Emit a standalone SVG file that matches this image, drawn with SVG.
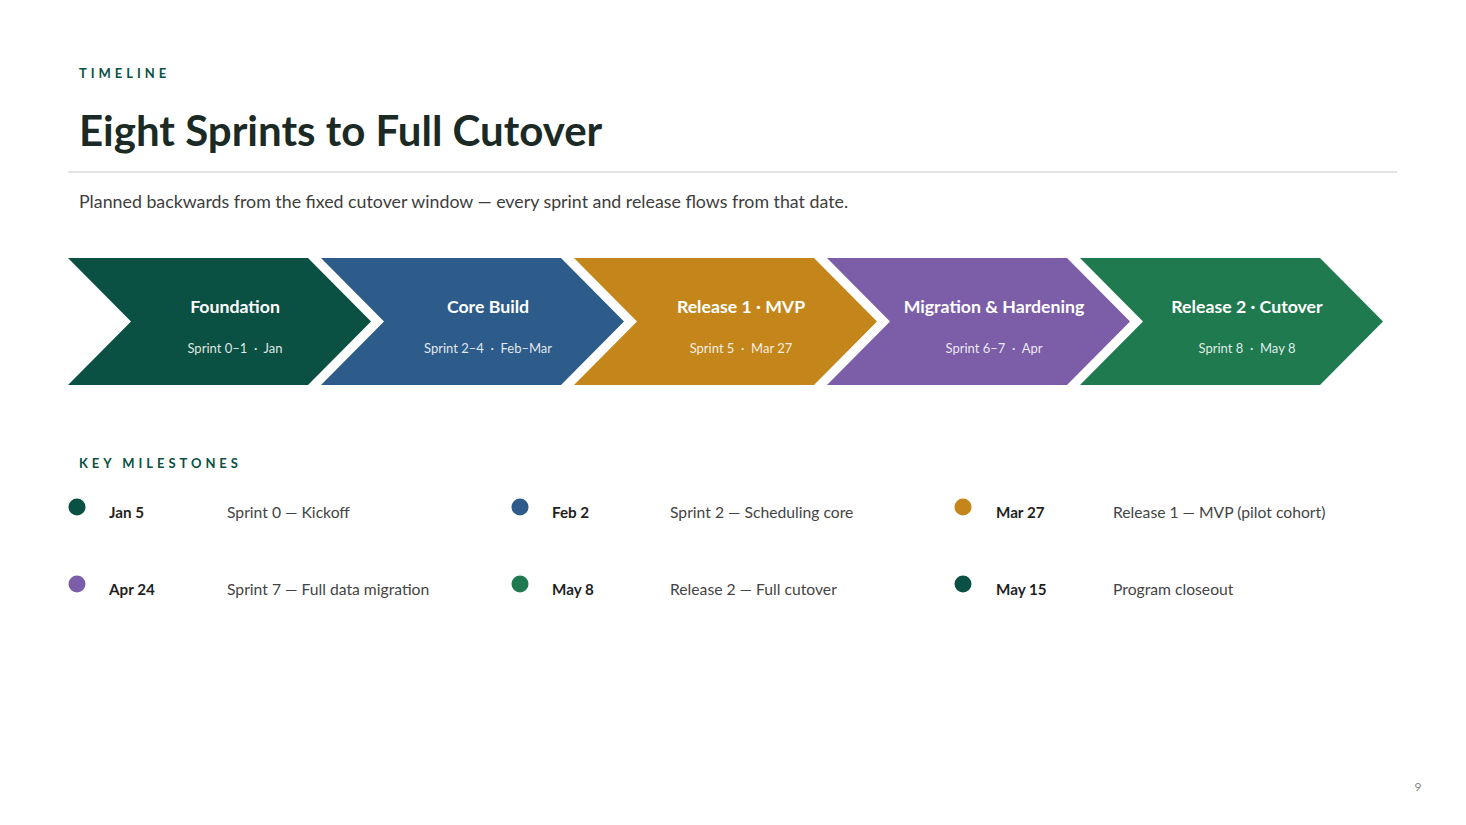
<svg xmlns="http://www.w3.org/2000/svg" width="1466" height="825" viewBox="0 0 1466 825">
<style>
text{font-family:Lato,"Noto Sans","Liberation Sans",sans-serif}
.eyebrow{font-size:13px;font-weight:700;fill:#0b5143;letter-spacing:3.95px}
.title{font-size:42px;font-weight:700;fill:#1b2a25}
.sub{font-size:17.8px;fill:#3d3d3d}
.ct{font-size:17.7px;font-weight:700;fill:#ffffff;text-anchor:middle}
.cs{font-size:13px;fill:#ffffff;fill-opacity:0.88;text-anchor:middle;white-space:pre}
.date{font-size:15.2px;font-weight:700;fill:#1f1f1f}
.desc{font-size:15.7px;fill:#444444}
.pg{font-size:12px;fill:#888888}
</style>
<rect width="1466" height="825" fill="#ffffff"/>
<text class="eyebrow" x="79" y="78">TIMELINE</text>
<text class="title" x="79" y="146">Eight Sprints to Full Cutover</text>
<line x1="68" y1="172" x2="1397" y2="172" stroke="#e3e3e3" stroke-width="2"/>
<text class="sub" x="79" y="208">Planned backwards from the fixed cutover window — every sprint and release flows from that date.</text>
<g id="phase-foundation">
<polygon points="68,258 308,258 371,321.5 308,385 68,385 131,321.5" fill="#0b5143"/>
<text class="ct" x="235" y="313">Foundation</text>
<text class="cs" x="235" y="353" xml:space="preserve">Sprint 0–1  ·  Jan</text>
</g>
<g id="phase-core-build">
<polygon points="321,258 561,258 624,321.5 561,385 321,385 384,321.5" fill="#2d5c8a"/>
<text class="ct" x="488" y="313">Core Build</text>
<text class="cs" x="488" y="353" xml:space="preserve">Sprint 2–4  ·  Feb–Mar</text>
</g>
<g id="phase-release1">
<polygon points="574,258 814,258 877,321.5 814,385 574,385 637,321.5" fill="#c4861b"/>
<text class="ct" x="741" y="313">Release 1 · MVP</text>
<text class="cs" x="741" y="353" xml:space="preserve">Sprint 5  ·  Mar 27</text>
</g>
<g id="phase-migration">
<polygon points="827,258 1067,258 1130,321.5 1067,385 827,385 890,321.5" fill="#7b5ea7"/>
<text class="ct" x="994" y="313">Migration &amp; Hardening</text>
<text class="cs" x="994" y="353" xml:space="preserve">Sprint 6–7  ·  Apr</text>
</g>
<g id="phase-release2">
<polygon points="1080,258 1320,258 1383,321.5 1320,385 1080,385 1143,321.5" fill="#1f7a4f"/>
<text class="ct" x="1247" y="313">Release 2 · Cutover</text>
<text class="cs" x="1247" y="353" xml:space="preserve">Sprint 8  ·  May 8</text>
</g>
<g id="connectors"></g>
<text class="eyebrow" x="79" y="468">KEY MILESTONES</text>
<g id="ms-jan5"><circle cx="77" cy="507" r="8.5" fill="#0b5143"/><text class="date" x="109" y="518">Jan 5</text><text class="desc" x="227" y="518">Sprint 0 — Kickoff</text></g>
<g id="ms-feb2"><circle cx="520" cy="507" r="8.5" fill="#2d5c8a"/><text class="date" x="552" y="518">Feb 2</text><text class="desc" x="670" y="518">Sprint 2 — Scheduling core</text></g>
<g id="ms-mar27"><circle cx="963" cy="507" r="8.5" fill="#c4861b"/><text class="date" x="996" y="518">Mar 27</text><text class="desc" x="1113" y="518">Release 1 — MVP (pilot cohort)</text></g>
<g id="ms-apr24"><circle cx="77" cy="584" r="8.5" fill="#7b5ea7"/><text class="date" x="109" y="595">Apr 24</text><text class="desc" x="227" y="595">Sprint 7 — Full data migration</text></g>
<g id="ms-may8"><circle cx="520" cy="584" r="8.5" fill="#1f7a4f"/><text class="date" x="552" y="595">May 8</text><text class="desc" x="670" y="595">Release 2 — Full cutover</text></g>
<g id="ms-may15"><circle cx="963" cy="584" r="8.5" fill="#0b5143"/><text class="date" x="996" y="595">May 15</text><text class="desc" x="1113" y="595">Program closeout</text></g>
<text class="pg" x="1418" y="791" text-anchor="middle">9</text>
</svg>
